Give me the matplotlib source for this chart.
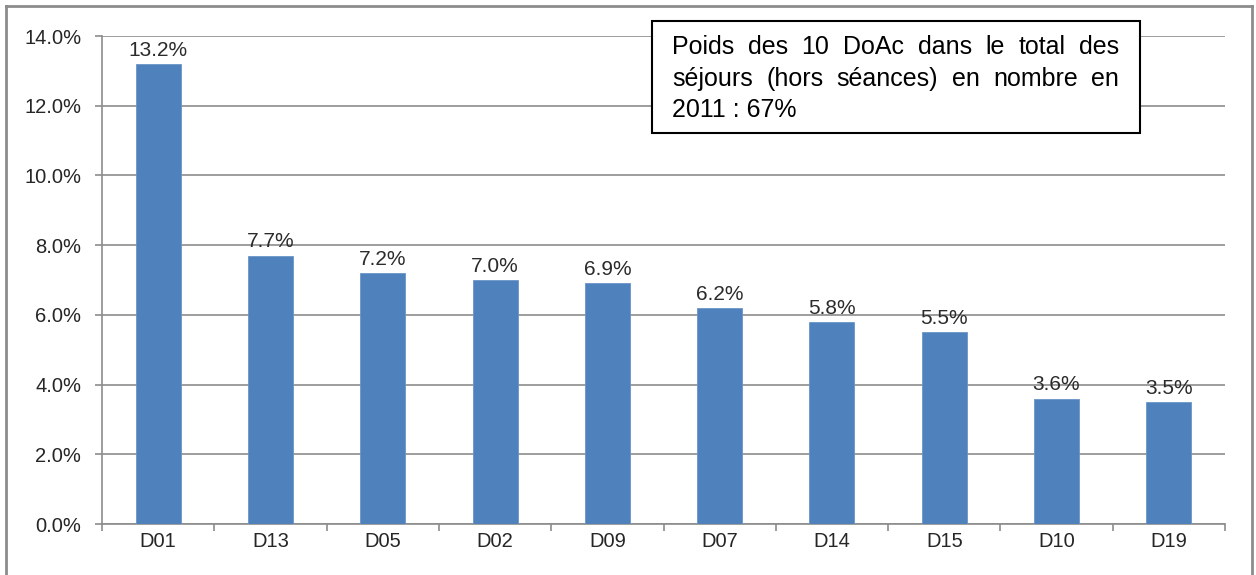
import matplotlib
matplotlib.use("Agg")
import matplotlib.pyplot as plt
from matplotlib.patches import Rectangle
from matplotlib.lines import Line2D


# =========================
# Data
# =========================

categories = ["D01", "D13", "D05", "D02", "D09",
              "D07", "D14", "D15", "D10", "D19"]

shares = [13.2, 7.7, 7.2, 7.0, 6.9, 6.2, 5.8, 5.5, 3.6, 3.5]

y_ticks = [0, 2, 4, 6, 8, 10, 12, 14]

note_lines = [
    "Poids des 10 DoAc dans le total des",
    "séjours (hors séances) en nombre en",
    "2011 : 67%",
]


plt.rcParams["font.family"] = ["Liberation Sans", "DejaVu Sans"]

W, H = 1256, 575

fig = plt.figure(figsize=(W / 100, H / 100), dpi=100)

ax = fig.add_axes([
    102 / W,
    1 - 524 / H,
    (1225 - 102) / W,
    (524 - 36) / H
])


# =========================
# Bars
# =========================

x = list(range(len(categories)))

ax.bar(
    x,
    shares,
    width=0.4,
    color="#4F81BD",
    edgecolor="#6a95c8",
    linewidth=0.6,
    zorder=3
)

for xi, v in zip(x, shares):
    ax.annotate(
        f"{v:.1f}%",
        (xi, v),
        xytext=(0, 3),
        textcoords="offset points",
        ha="center",
        va="bottom",
        fontsize=15,
        color="#2b2b2b"
    )


# =========================
# Axes style
# =========================

ax.set_xlim(-0.5, len(categories) - 0.5)
ax.set_ylim(0, 14)

ax.set_yticks(y_ticks)
ax.set_yticklabels([f"{t:.1f}%" for t in y_ticks])

ax.set_xticks(x)
ax.set_xticklabels(categories)
ax.set_xticks([i - 0.5 for i in range(len(categories) + 1)], minor=True)

ax.tick_params(axis="x", which="major", length=0, pad=6,
               labelsize=14.5, labelcolor="#262626")
ax.tick_params(axis="x", which="minor", length=5, width=1.2,
               color="#8c8c8c", direction="out")
ax.tick_params(axis="y", length=5, width=1.2, color="#8c8c8c",
               labelsize=14.5, labelcolor="#262626", pad=10)

ax.grid(axis="y", color="#8c8c8c", linewidth=1.2, zorder=0)

for side in ["top", "right"]:
    ax.spines[side].set_visible(False)

for side in ["left", "bottom"]:
    ax.spines[side].set_color("#8c8c8c")
    ax.spines[side].set_linewidth(1.2)


# =========================
# Outer frame
# =========================

frame_color = "#8c8c8c"

fig.add_artist(Line2D([6 / W, 6 / W], [0, 1 - 6 / H],
                      color=frame_color, linewidth=2))
fig.add_artist(Line2D([6 / W, 1252 / W], [1 - 6 / H, 1 - 6 / H],
                      color=frame_color, linewidth=2))
fig.add_artist(Line2D([1252 / W, 1252 / W], [0, 1 - 6 / H],
                      color=frame_color, linewidth=2))


# =========================
# Note box (justified text)
# =========================

box_l, box_r, box_t, box_b = 652, 1140, 21, 133

fig.add_artist(Rectangle(
    (box_l / W, 1 - box_b / H),
    (box_r - box_l) / W,
    (box_b - box_t) / H,
    facecolor="white",
    edgecolor="black",
    linewidth=1.5,
    zorder=5
))

text_l, text_r = 672, 1119
line_y = [47, 79, 110]
note_size = 18

renderer = fig.canvas.get_renderer()

for n, line in enumerate(note_lines):
    words = line.split(" ")
    y_fig = 1 - line_y[n] / H
    last = n == len(note_lines) - 1
    if last:
        fig.text(text_l / W, y_fig, line, fontsize=note_size,
                 va="center", ha="left", zorder=6)
        continue
    widths = []
    for w in words:
        t = fig.text(0, 0, w, fontsize=note_size)
        widths.append(t.get_window_extent(renderer).width)
        t.remove()
    gap = (text_r - text_l - sum(widths)) / (len(words) - 1)
    pos = text_l
    for w, wd in zip(words, widths):
        fig.text(pos / W, y_fig, w, fontsize=note_size,
                 va="center", ha="left", zorder=6)
        pos += wd + gap


fig.savefig("out.png", dpi=100)
